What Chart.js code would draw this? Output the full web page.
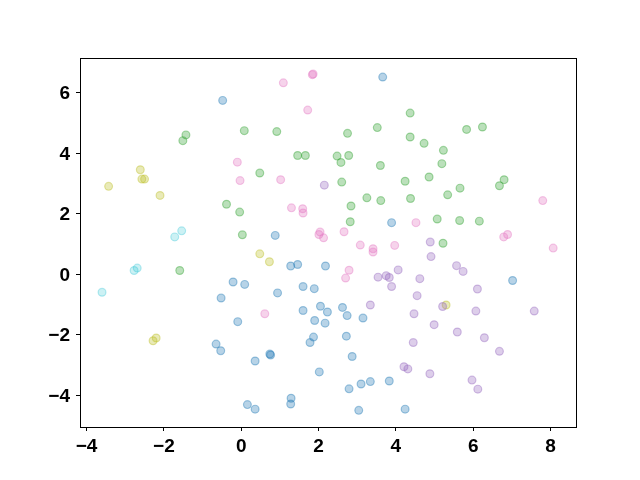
<!DOCTYPE html>
<html>
<head>
<meta charset="utf-8">
<title>Scatter clusters</title>
<script src="https://cdn.jsdelivr.net/npm/chart.js@4.4.1/dist/chart.umd.min.js"></script>
<style>
  html, body { margin: 0; padding: 0; background: #fff; }
  #chart { display: block; }
</style>
</head>
<body>
<canvas id="chart" width="640" height="480"></canvas>
<script>
// points, [x, y] per point, grouped by colour
const bluePts = [
  [-0.48, 5.74], [3.66, 6.51], [3.89, 1.70], [0.88, 1.28], [1.28, 0.27], [1.46, 0.32],
  [2.18, 0.27], [-0.21, -0.26], [0.09, -0.34], [-0.52, -0.79], [0.94, -0.62], [1.60, -0.41],
  [1.89, -0.48], [7.02, -0.21], [-0.09, -1.57], [-0.65, -2.31], [-0.53, -2.53], [0.16, -4.31],
  [1.60, -1.20], [2.05, -1.06], [2.23, -1.25], [2.62, -1.10], [2.74, -1.37], [3.15, -1.45],
  [1.90, -1.53], [2.17, -1.62], [1.87, -2.08], [1.78, -2.26], [2.72, -2.05], [0.74, -2.64],
  [0.76, -2.67], [0.36, -2.87], [2.87, -2.72], [2.02, -3.23], [2.79, -3.79], [3.10, -3.63],
  [3.34, -3.55], [3.83, -3.53], [1.29, -4.10], [1.28, -4.29], [0.36, -4.46], [3.04, -4.50],
  [4.24, -4.46]
];
const greenPts = [
  [0.08, 4.74], [-1.43, 4.60], [-1.51, 4.41], [0.92, 4.71], [2.75, 4.65], [3.52, 4.84],
  [4.37, 5.32], [4.37, 4.53], [1.46, 3.92], [1.66, 3.92], [2.48, 3.90], [2.78, 3.92],
  [2.58, 3.69], [3.60, 3.59], [0.48, 3.34], [2.60, 3.04], [4.24, 3.07], [5.83, 4.78],
  [6.24, 4.86], [4.73, 4.32], [5.23, 4.09], [5.19, 3.65], [4.86, 3.21], [6.80, 3.12],
  [6.68, 2.92], [5.66, 2.84], [5.34, 2.62], [-0.38, 2.31], [-0.04, 2.05], [0.03, 1.30],
  [-1.59, 0.12], [2.84, 2.25], [3.25, 2.52], [3.61, 2.43], [4.38, 2.50], [2.82, 1.73],
  [5.07, 1.82], [5.65, 1.77], [6.16, 1.75], [5.22, 1.02]
];
const pinkPts = [
  [1.86, 6.61], [1.84, 6.59], [1.09, 6.32], [1.72, 5.42], [-0.10, 3.70], [-0.03, 3.09],
  [1.02, 3.12], [1.30, 2.19], [1.59, 2.16], [1.60, 2.02], [2.04, 1.39], [2.01, 1.31],
  [2.13, 1.20], [2.66, 1.40], [3.08, 0.96], [3.41, 0.84], [3.41, 0.73], [3.97, 0.95],
  [2.79, 0.13], [2.70, -0.13], [4.52, 1.70], [7.80, 2.43], [6.79, 1.23], [6.89, 1.31],
  [8.07, 0.86], [0.61, -1.31]
];
const purplePts = [
  [2.15, 2.94], [3.54, -0.10], [3.75, -0.05], [3.83, -0.11], [4.06, 0.14], [3.89, -0.41],
  [3.34, -1.02], [4.89, 1.06], [4.91, 0.58], [5.57, 0.28], [5.74, 0.09], [4.62, -0.15],
  [6.11, -0.49], [4.55, -0.71], [5.21, -1.07], [4.47, -1.31], [6.07, -1.22], [7.58, -1.22],
  [4.99, -1.67], [5.59, -1.91], [6.29, -2.10], [4.45, -2.26], [6.68, -2.55], [4.21, -3.06],
  [4.31, -3.13], [4.88, -3.29], [5.97, -3.50], [6.12, -3.80]
];
const olivePts = [
  [-2.61, 3.45], [-2.57, 3.14], [-2.50, 3.14], [-3.43, 2.90], [-2.10, 2.60], [0.48, 0.67],
  [0.73, 0.41], [5.30, -1.02], [-2.20, -2.11], [-2.28, -2.20]
];
const cyanPts = [
  [-1.54, 1.43], [-1.72, 1.23], [-2.69, 0.20], [-2.77, 0.12], [-3.60, -0.60]
];

const xTicks = [-4, -2, 0, 2, 4, 6, 8];
const yTicks = [-4, -2, 0, 2, 4, 6];

function toXY(pts) {
  return pts.map(p => ({ x: p[0], y: p[1] }));
}

function rgba(rgb, a) {
  return `rgba(${rgb},${a})`;
}

function series(pts, rgb, a) {
  return {
    data: toXY(pts),
    backgroundColor: rgba(rgb, a),
    borderColor: rgba(rgb, a + 0.08),
    borderWidth: 1.2,
    pointRadius: 3.9,
    pointHoverRadius: 3.9
  };
}

// full black frame round the plot area
const frame = {
  id: "frame",
  afterDraw(chart) {
    const a = chart.chartArea;
    const ctx = chart.ctx;
    ctx.save();
    ctx.strokeStyle = "#000";
    ctx.lineWidth = 1;
    ctx.strokeRect(Math.round(a.left) + 0.5, Math.round(a.top) + 0.5,
                   Math.round(a.right - a.left), Math.round(a.bottom - a.top));
    ctx.restore();
  }
};

const tickFont = { family: "'Liberation Sans', Arial, sans-serif", size: 19, weight: "bold" };

new Chart(document.getElementById("chart").getContext("2d"), {
  type: "scatter",
  data: {
    datasets: [
      series(bluePts, "31,119,180", 0.32),
      series(greenPts, "44,160,44", 0.32),
      series(pinkPts, "227,119,194", 0.32),
      series(purplePts, "148,103,189", 0.32),
      series(olivePts, "188,189,34", 0.32),
      series(cyanPts, "23,190,207", 0.22)
    ]
  },
  options: {
    responsive: false,
    animation: false,
    layout: { padding: { left: 0, right: 64, top: 58, bottom: 0 } },
    plugins: {
      legend: { display: false },
      tooltip: { enabled: false }
    },
    scales: {
      x: {
        type: "linear",
        min: -4.17,
        max: 8.66,
        afterFit: s => { s.height = 53; },
        afterBuildTicks: s => { s.ticks = xTicks.map(v => ({ value: v })); },
        grid: { drawOnChartArea: false, drawTicks: true, tickLength: 4, tickColor: "#000" },
        border: { display: true, color: "#000", width: 1 },
        ticks: {
          color: "#000",
          font: tickFont,
          padding: 4,
          maxRotation: 0,
          callback: v => String(v).replace("-", "\u2212")
        }
      },
      y: {
        type: "linear",
        min: -5.05,
        max: 7.14,
        afterFit: s => { s.width = 80; },
        afterBuildTicks: s => { s.ticks = yTicks.map(v => ({ value: v })); },
        grid: { drawOnChartArea: false, drawTicks: true, tickLength: 4, tickColor: "#000" },
        border: { display: true, color: "#000", width: 1 },
        ticks: {
          color: "#000",
          font: tickFont,
          padding: 6,
          labelOffset: 1.5,
          callback: v => String(v).replace("-", "\u2212")
        }
      }
    }
  },
  plugins: [frame]
});
</script>
</body>
</html>
